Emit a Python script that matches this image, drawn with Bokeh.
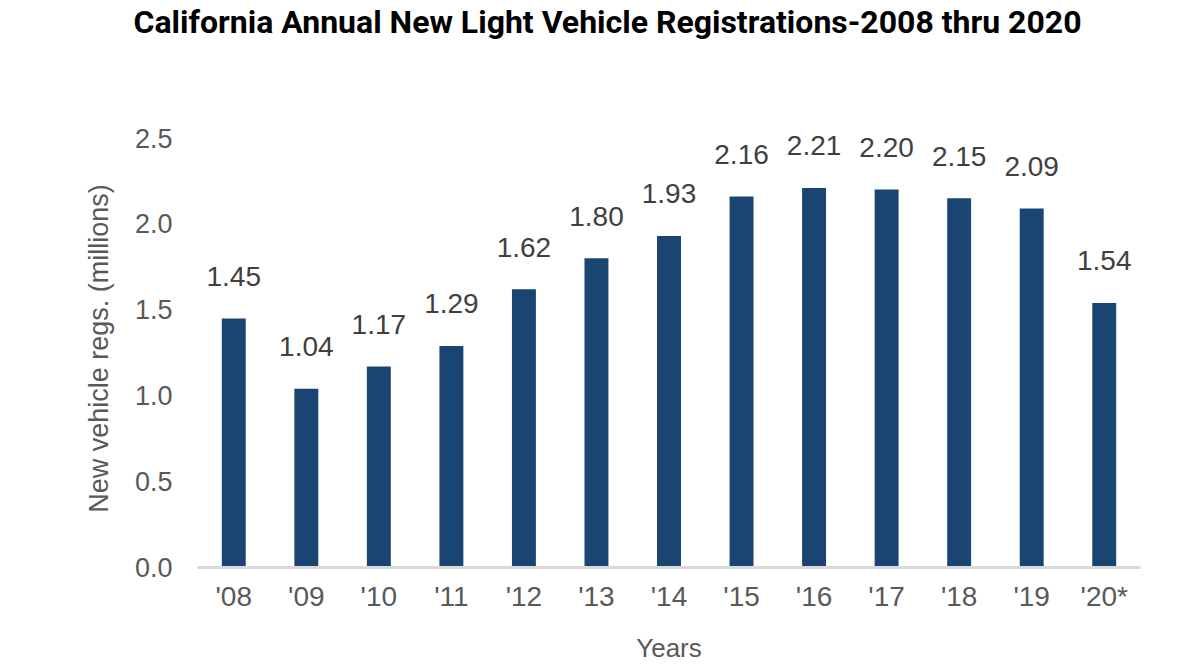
from bokeh.plotting import figure
from bokeh.models import ColumnDataSource, Title, FixedTicker, NumeralTickFormatter, Range1d
from bokeh.embed import file_html
from bokeh.resources import INLINE
from bokeh.core.properties import value

years = ["'08", "'09", "'10", "'11", "'12", "'13", "'14", "'15", "'16", "'17", "'18", "'19", "'20*"]
regs = [1.45, 1.04, 1.17, 1.29, 1.62, 1.80, 1.93, 2.16, 2.21, 2.20, 2.15, 2.09, 1.54]
labels = ["%.2f" % v for v in regs]
y_ticks = [0.0, 0.5, 1.0, 1.5, 2.0, 2.5]
title_text = "California Annual New Light Vehicle Registrations-2008 thru 2020"

FONT = "'Liberation Sans', Arial, sans-serif"
TFONT = "Roboto, 'Liberation Sans', sans-serif"

src = ColumnDataSource(dict(x=years, y=regs, lab=labels))

p = figure(x_range=years, y_range=Range1d(0, 2.55), width=1184, height=668,
           output_backend="svg", toolbar_location=None,
           min_border_left=197, min_border_right=44, min_border_top=127, min_border_bottom=101)
p.title.text = ""
p.title.text_font_size = "1px"
p.title.standoff = 0

# spacer between frame and title, then the title itself further out
p.add_layout(Title(text=" ", text_font_size="10px", standoff=76, text_color="#FFFFFF"), "above")
p.add_layout(Title(text=title_text, align="left", offset=-64, standoff=0,
                   text_font_size="32px", text_font=TFONT,
                   text_font_style="bold", text_color="#000000"), "above")

p.outline_line_color = None
p.grid.grid_line_color = None
p.background_fill_color = "white"
p.border_fill_color = "white"

p.vbar(x="x", top="y", width=0.33, source=src, fill_color="#1A4472", line_color=None)
p.text(x="x", y="y", text="lab", source=src, text_align="center", text_baseline="alphabetic",
       y_offset=-42, text_font_size="28px", text_font=value(FONT), text_color="#404040")

ya = p.yaxis[0]
ya.ticker = FixedTicker(ticks=y_ticks)
ya.formatter = NumeralTickFormatter(format="0.0")
ya.axis_line_color = None
ya.major_tick_line_color = None
ya.minor_tick_line_color = None
ya.major_label_text_font_size = "27px"
ya.major_label_text_font = FONT
ya.major_label_text_color = "#595959"
ya.major_label_standoff = 19
ya.axis_label = "New vehicle regs. (millions)"
ya.axis_label_text_font_size = "27px"
ya.axis_label_text_font = FONT
ya.axis_label_text_font_style = "normal"
ya.axis_label_text_color = "#595959"
ya.axis_label_standoff = 18

xa = p.xaxis[0]
xa.axis_line_color = "#D9D9D9"
xa.axis_line_width = 3
xa.major_tick_line_color = None
xa.minor_tick_line_color = None
xa.major_label_text_font_size = "28px"
xa.major_label_text_font = FONT
xa.major_label_text_color = "#595959"
xa.major_label_standoff = 7
xa.axis_label = "Years"
xa.axis_label_text_font_size = "26px"
xa.axis_label_text_font = FONT
xa.axis_label_text_font_style = "normal"
xa.axis_label_text_color = "#595959"
xa.axis_label_standoff = 18

open("out.html", "w").write(file_html(p, INLINE))
